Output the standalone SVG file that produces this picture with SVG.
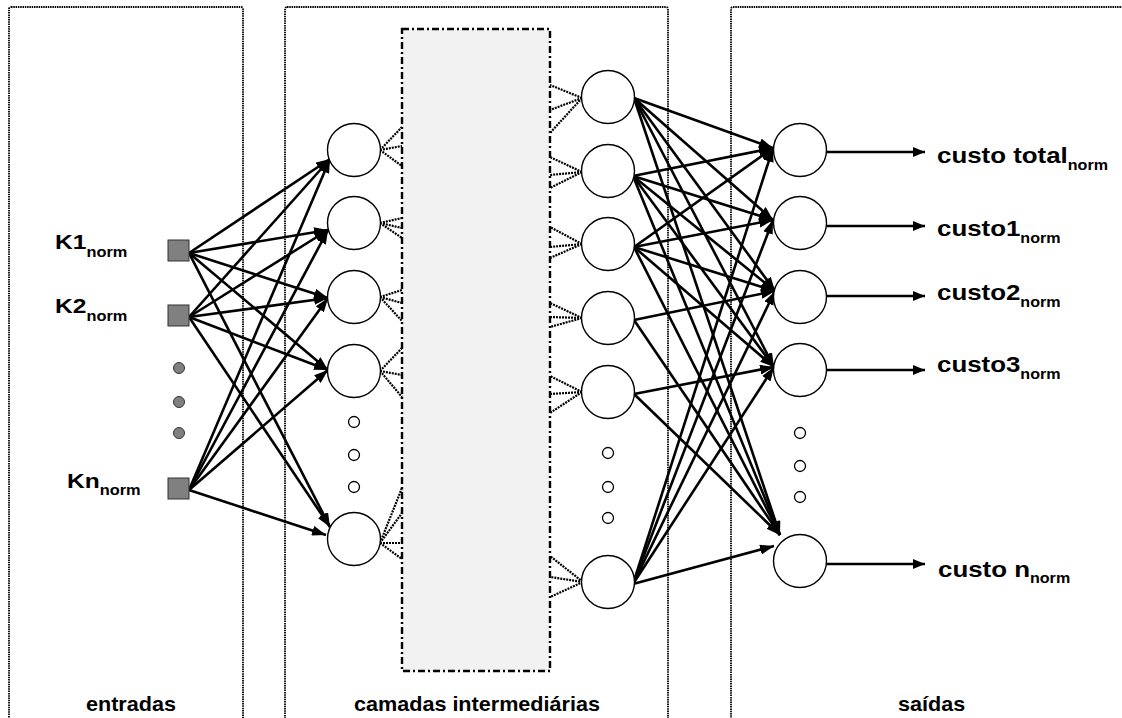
<svg xmlns="http://www.w3.org/2000/svg" width="1122" height="718" viewBox="0 0 1122 718">
<style>
.panel{fill:none;stroke:#000;stroke-width:1.8;stroke-dasharray:1.5,0.8}
.box{fill:#f2f2f2;stroke:#000;stroke-width:2.4;stroke-dasharray:7,3,2,3}
.nd{fill:#fff;stroke:#000;stroke-width:1.4}
.sq{fill:#808080;stroke:#333;stroke-width:1}
.gd{fill:#808080;stroke:#333;stroke-width:1}
.sd{fill:#fff;stroke:#000;stroke-width:1.3}
.c{stroke:#000;stroke-width:2.6;fill:none;marker-end:url(#ah)}
.o{stroke:#000;stroke-width:2.4;fill:none;marker-end:url(#ah2)}
.d{stroke:#000;stroke-width:2.2;fill:none;stroke-dasharray:2,1}
text{font-family:"Liberation Sans",Arial,sans-serif;font-weight:bold;fill:#000}
.lbl{font-size:21px}
.out{font-size:22.5px}
.bot{font-size:20px}
.sub{font-size:14px}
</style>
<defs>
<marker id="ah" viewBox="0 0 14 10" refX="14" refY="5" markerWidth="14" markerHeight="10" markerUnits="userSpaceOnUse" orient="auto"><path d="M0,0 L14,5 L0,10 z" fill="#000"/></marker>
<marker id="ah2" viewBox="0 0 12 10" refX="12" refY="5" markerWidth="12" markerHeight="10" markerUnits="userSpaceOnUse" orient="auto"><path d="M0,0 L12,5 L0,10 z" fill="#000"/></marker>
</defs>

<g id="panels">
<rect class="panel" x="9" y="7" width="234" height="730" rx="2"/>
<rect class="panel" x="285" y="7" width="383" height="730" rx="2"/>
<rect class="panel" x="731" y="7" width="420" height="730" rx="2"/>
<text class="bot" transform="translate(86,711) scale(1.08,1)">entradas</text>
<text class="bot" transform="translate(354,711) scale(1.08,1)">camadas intermediárias</text>
<text class="bot" transform="translate(898,711) scale(1.08,1)">saídas</text>
</g>

<g id="hidden-box">
<rect class="box" x="402" y="29" width="148" height="642"/>
</g>

<g id="connectors">
<path class="d" d="M380,150 L402,127 M380,150 L402,146 M380,150 L402,166"/>
<path class="d" d="M380,223 L402,218 M380,223 L402,228 M380,223 L402,238"/>
<path class="d" d="M380,297 L402,290 M380,297 L402,303 M380,297 L402,321"/>
<path class="d" d="M380,371 L402,348 M380,371 L402,375 M380,371 L402,397"/>
<path class="d" d="M380,543 L402,488 M380,543 L402,513 M380,543 L402,543 M380,543 L402,559"/>
<path class="d" d="M582,98 L550,85 M582,98 L550,110 M582,98 L550,133"/>
<path class="d" d="M582,172 L550,157 M582,172 L550,175 M582,172 L550,188"/>
<path class="d" d="M582,244 L550,227 M582,244 L550,247 M582,244 L550,258"/>
<path class="d" d="M582,318 L550,303 M582,318 L550,317 M582,318 L550,327"/>
<path class="d" d="M582,392 L550,376 M582,392 L550,394 M582,392 L550,413"/>
<path class="d" d="M583,582 L550,556 M583,582 L550,577 M583,582 L550,597"/>
<line class="c" x1="189" y1="253" x2="330" y2="159"/>
<line class="c" x1="189" y1="253" x2="328" y2="230"/>
<line class="c" x1="189" y1="253" x2="328" y2="298"/>
<line class="c" x1="189" y1="253" x2="328" y2="370"/>
<line class="c" x1="189" y1="253" x2="330" y2="527"/>
<line class="c" x1="189" y1="317" x2="330" y2="159"/>
<line class="c" x1="189" y1="317" x2="328" y2="230"/>
<line class="c" x1="189" y1="317" x2="328" y2="298"/>
<line class="c" x1="189" y1="317" x2="328" y2="370"/>
<line class="c" x1="189" y1="317" x2="330" y2="527"/>
<line class="c" x1="189" y1="490" x2="330" y2="159"/>
<line class="c" x1="189" y1="490" x2="328" y2="230"/>
<line class="c" x1="189" y1="490" x2="328" y2="298"/>
<line class="c" x1="189" y1="490" x2="328" y2="370"/>
<line class="c" x1="189" y1="490" x2="326" y2="535"/>
<line class="c" x1="634" y1="98" x2="773" y2="148"/>
<line class="c" x1="634" y1="98" x2="773" y2="220"/>
<line class="c" x1="634" y1="98" x2="775" y2="291"/>
<line class="c" x1="634" y1="98" x2="774" y2="367"/>
<line class="c" x1="634" y1="98" x2="780" y2="535"/>
<line class="c" x1="633" y1="176" x2="773" y2="148"/>
<line class="c" x1="633" y1="176" x2="773" y2="220"/>
<line class="c" x1="633" y1="176" x2="775" y2="291"/>
<line class="c" x1="633" y1="176" x2="774" y2="367"/>
<line class="c" x1="633" y1="176" x2="780" y2="535"/>
<line class="c" x1="634" y1="247" x2="773" y2="148"/>
<line class="c" x1="634" y1="247" x2="773" y2="220"/>
<line class="c" x1="634" y1="247" x2="775" y2="291"/>
<line class="c" x1="634" y1="247" x2="774" y2="367"/>
<line class="c" x1="634" y1="247" x2="780" y2="535"/>
<line class="c" x1="634" y1="320" x2="775" y2="291"/>
<line class="c" x1="634" y1="320" x2="780" y2="535"/>
<line class="c" x1="634" y1="394" x2="774" y2="367"/>
<line class="c" x1="634" y1="394" x2="780" y2="535"/>
<line class="c" x1="633" y1="584" x2="773" y2="148"/>
<line class="c" x1="633" y1="584" x2="773" y2="220"/>
<line class="c" x1="633" y1="584" x2="775" y2="291"/>
<line class="c" x1="633" y1="584" x2="774" y2="367"/>
<line class="c" x1="633" y1="584" x2="774" y2="546"/>
<line class="o" x1="827" y1="152" x2="925" y2="152"/>
<line class="o" x1="827" y1="226" x2="925" y2="226"/>
<line class="o" x1="827" y1="296" x2="925" y2="296"/>
<line class="o" x1="827" y1="370" x2="925" y2="370"/>
<line class="o" x1="827" y1="564" x2="925" y2="564"/>
</g>

<g id="input-k1"><rect class="sq" x="168" y="240" width="21" height="21"/><text class="lbl" transform="translate(55,249) scale(1.17,1)">K1<tspan class="sub" dy="8">norm</tspan></text></g>
<g id="input-k2"><rect class="sq" x="168" y="305" width="21" height="21"/><text class="lbl" transform="translate(55,313) scale(1.17,1)">K2<tspan class="sub" dy="8">norm</tspan></text></g>
<g id="input-dots"><circle class="gd" cx="179" cy="368" r="5.5"/><circle class="gd" cx="179" cy="402" r="5.5"/><circle class="gd" cx="179" cy="433" r="5.5"/></g>
<g id="input-kn"><rect class="sq" x="168" y="478" width="21" height="21"/><text class="lbl" transform="translate(67,488) scale(1.17,1)">Kn<tspan class="sub" dy="7">norm</tspan></text></g>

<g id="h1"><circle class="nd" cx="354" cy="150" r="26.5"/></g>
<g id="h2"><circle class="nd" cx="354" cy="223" r="26.5"/></g>
<g id="h3"><circle class="nd" cx="354" cy="297" r="26.5"/></g>
<g id="h4"><circle class="nd" cx="354" cy="371" r="26.5"/></g>
<g id="h-dots"><circle class="sd" cx="354" cy="422" r="5.5"/><circle class="sd" cx="354" cy="455" r="5.5"/><circle class="sd" cx="354" cy="487" r="5.5"/></g>
<g id="h5"><circle class="nd" cx="354" cy="539" r="26.5"/></g>

<g id="r1"><circle class="nd" cx="608" cy="97" r="26.5"/></g>
<g id="r2"><circle class="nd" cx="608" cy="171" r="26.5"/></g>
<g id="r3"><circle class="nd" cx="608" cy="244" r="26.5"/></g>
<g id="r4"><circle class="nd" cx="608" cy="318" r="26.5"/></g>
<g id="r5"><circle class="nd" cx="608" cy="392" r="26.5"/></g>
<g id="r-dots"><circle class="sd" cx="608" cy="453" r="5.5"/><circle class="sd" cx="608" cy="487" r="5.5"/><circle class="sd" cx="608" cy="518" r="5.5"/></g>
<g id="r7"><circle class="nd" cx="608" cy="582" r="26.5"/></g>

<g id="o1"><circle class="nd" cx="800" cy="150" r="26.5"/><text class="out" transform="translate(937,163) scale(1.15,1)">custo total<tspan class="sub" dy="7">norm</tspan></text></g>
<g id="o2"><circle class="nd" cx="800" cy="223" r="26.5"/><text class="out" transform="translate(937,236) scale(1.15,1)">custo1<tspan class="sub" dy="7">norm</tspan></text></g>
<g id="o3"><circle class="nd" cx="800" cy="297" r="26.5"/><text class="out" transform="translate(937,300) scale(1.15,1)">custo2<tspan class="sub" dy="7">norm</tspan></text></g>
<g id="o4"><circle class="nd" cx="800" cy="370" r="26.5"/><text class="out" transform="translate(937,372) scale(1.15,1)">custo3<tspan class="sub" dy="7">norm</tspan></text></g>
<g id="o-dots"><circle class="sd" cx="800" cy="433" r="5.5"/><circle class="sd" cx="800" cy="466" r="5.5"/><circle class="sd" cx="800" cy="497" r="5.5"/></g>
<g id="on"><circle class="nd" cx="800" cy="561" r="26.5"/><text class="out" transform="translate(938,577) scale(1.15,1)">custo n<tspan class="sub" dy="6">norm</tspan></text></g>
</svg>
